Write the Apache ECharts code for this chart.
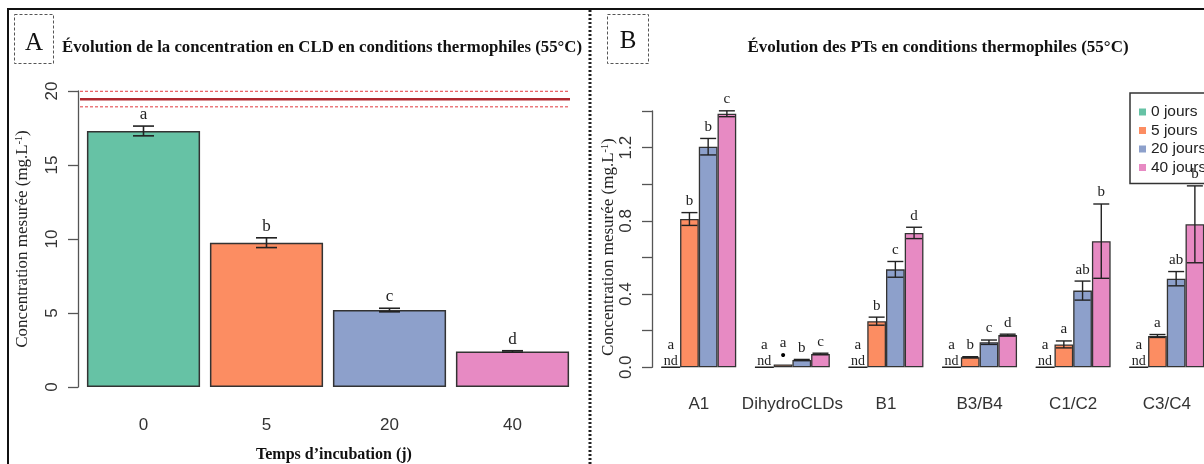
<!DOCTYPE html>
<html><head><meta charset="utf-8">
<script src="https://cdn.jsdelivr.net/npm/echarts@6/dist/echarts.min.js"></script>
<style>html,body{margin:0;padding:0;background:#fff}#c{width:1204px;height:464px}</style>
</head><body><div id="c"></div>
<script>
// ---- Panel A data ----
const leftCategories = ['0', '5', '20', '40'];
const leftValues = [17.3, 9.75, 5.2, 2.4];
const leftErrors = [0.33, 0.33, 0.12, 0.05];
const leftLetters = ['a', 'b', 'c', 'd'];
const leftColors = ['#66C2A5', '#FC8D62', '#8DA0CB', '#E78AC3'];
const refMean = 19.45, refHigh = 19.98, refLow = 18.93;

// ---- Panel B data ----
const rightCategories = ['A1', 'DihydroCLDs', 'B1', 'B3/B4', 'C1/C2', 'C3/C4'];
const seriesNames = ['0 jours', '5 jours', '20 jours', '40 jours'];
const day0 = [0, 0, 0, 0, 0, 0];
const day5 = [0.81, 0.015, 0.252, 0.055, 0.125, 0.171];
const day20 = [1.205, 0.04, 0.535, 0.137, 0.419, 0.484];
const day40 = [1.385, 0.073, 0.734, 0.176, 0.689, 0.781];
const err0 = [0, 0, 0, 0, 0, 0];
const err5 = [0.035, 0, 0.022, 0.003, 0.019, 0.008];
const err20 = [0.045, 0.003, 0.043, 0.012, 0.052, 0.039];
const err40 = [0.016, 0.004, 0.031, 0.005, 0.203, 0.21];
const letters0 = ['a', 'a', 'a', 'a', 'a', 'a'];
const letters5 = ['b', 'a', 'b', 'b', 'a', 'a'];
const letters20 = ['b', 'b', 'c', 'c', 'ab', 'ab'];
const letters40 = ['c', 'c', 'd', 'd', 'b', 'b'];
const marks5 = ['', '•', '', '', '', ''];
const ndLabel = 'nd';

const SERIF = '"Liberation Serif", "Times New Roman", serif';
const SANS = '"Liberation Sans", Arial, sans-serif';
const INK = '#222';

const dayValues = [day0, day5, day20, day40];
const dayErrors = [err0, err5, err20, err40];
const dayLetters = [letters0, letters5, letters20, letters40];

const chart = echarts.init(document.getElementById('c'), null, {renderer: 'canvas'});

function leftErrRender(params, api) {
  const i = api.value(0);
  const v = leftValues[i], e = leftErrors[i];
  const pTop = api.coord([i, v + e]);
  const pBot = api.coord([i, v - e]);
  const x = pTop[0];
  const cap = 10.5;
  const st = {stroke: INK, lineWidth: 1.6};
  return {type: 'group', children: [
    {type: 'line', shape: {x1: x, y1: pTop[1], x2: x, y2: pBot[1]}, style: st},
    {type: 'line', shape: {x1: x - cap, y1: pTop[1], x2: x + cap, y2: pTop[1]}, style: st},
    {type: 'line', shape: {x1: x - cap, y1: pBot[1], x2: x + cap, y2: pBot[1]}, style: st},
    {type: 'text', x: x, y: pTop[1] - 3, style: {text: leftLetters[i], font: '17px ' + SERIF, textAlign: 'center', textVerticalAlign: 'bottom', fill: INK}}
  ]};
}

// reference band (red lines) drawn across the plot through the value scale
function refRender(params, api) {
  const band = api.size([1, 0])[0];
  const first = api.coord([0, refMean]);
  const last = api.coord([leftCategories.length - 1, refMean]);
  const x1 = first[0] - band / 2 - 2, x2 = last[0] + band / 2 - 4;
  const yM = first[1], yH = api.coord([0, refHigh])[1], yL = api.coord([0, refLow])[1];
  const dash = {stroke: '#e23b3f', lineWidth: 1, lineDash: [3, 2]};
  return {type: 'group', children: [
    {type: 'line', shape: {x1: x1, y1: yH, x2: x2, y2: yH}, style: dash},
    {type: 'line', shape: {x1: x1, y1: yL, x2: x2, y2: yL}, style: dash},
    {type: 'line', shape: {x1: x1, y1: yM, x2: x2, y2: yM}, style: {stroke: '#b0282e', lineWidth: 2.5}}
  ]};
}

function rightErrRender(params, api) {
  const i = api.value(0);
  const center = api.coord([i, 0]);
  const band = api.size([1, 0])[0];
  const bw = band * 0.8 / 4;
  const children = [];
  const st = {stroke: INK, lineWidth: 1.4};
  for (let d = 0; d < 4; d++) {
    const x = center[0] + (d - 1.5) * bw;
    const v = dayValues[d][i], e = dayErrors[d][i];
    const y0 = center[1];
    if (v === 0) {
      children.push({type: 'line', shape: {x1: x - bw / 2, y1: y0, x2: x + bw / 2, y2: y0}, style: {stroke: INK, lineWidth: 1.3}});
      children.push({type: 'text', x: x, y: y0 + 1, style: {text: ndLabel, font: '14px ' + SERIF, textAlign: 'center', textVerticalAlign: 'bottom', fill: INK}});
      children.push({type: 'text', x: x, y: y0 - 15, style: {text: dayLetters[d][i], font: '15px ' + SERIF, textAlign: 'center', textVerticalAlign: 'bottom', fill: INK}});
      continue;
    }
    const pTop = api.coord([i, v + e]);
    const pBot = api.coord([i, v - e]);
    const cap = 8;
    if (e > 0) {
      children.push({type: 'line', shape: {x1: x, y1: pTop[1], x2: x, y2: pBot[1]}, style: st});
      children.push({type: 'line', shape: {x1: x - cap, y1: pTop[1], x2: x + cap, y2: pTop[1]}, style: st});
      children.push({type: 'line', shape: {x1: x - cap, y1: pBot[1], x2: x + cap, y2: pBot[1]}, style: st});
    }
    let ly = pTop[1] - 4;
    const mark = d === 1 ? marks5[i] : '';
    if (mark) {
      children.push({type: 'text', x: x, y: pTop[1] - 1, style: {text: mark, font: '15px ' + SANS, textAlign: 'center', textVerticalAlign: 'bottom', fill: '#000'}});
      ly -= 10;
    }
    children.push({type: 'text', x: x, y: ly, style: {text: dayLetters[d][i], font: '15px ' + SERIF, textAlign: 'center', textVerticalAlign: 'bottom', fill: INK}});
  }
  return {type: 'group', children: children};
}

const rightBarSeries = seriesNames.map((name, d) => ({
  name: name,
  type: 'bar',
  xAxisIndex: 1, yAxisIndex: 1,
  data: dayValues[d],
  barGap: '0%',
  barCategoryGap: '20%',
  itemStyle: {color: leftColors[d], borderColor: '#333', borderWidth: 1.3},
  emphasis: {disabled: true},
  silent: true
}));

const supRich = {sup: {fontSize: 10, verticalAlign: 'top', padding: [0, 0, 7, 0], fontFamily: SERIF, color: INK}};

const option = {
  animation: false,
  backgroundColor: '#fff',
  grid: [
    {left: 82, top: 91, width: 492, height: 296, outerBoundsMode: 'none', containLabel: false},
    {left: 652, top: 111, width: 561.6, height: 256.3, outerBoundsMode: 'none', containLabel: false}
  ],
  xAxis: [
    {type: 'category', gridIndex: 0, data: leftCategories,
     axisLine: {show: false}, axisTick: {show: false},
     axisLabel: {margin: 30, fontFamily: SANS, fontSize: 17, color: '#333'}},
    {type: 'category', gridIndex: 1, data: rightCategories,
     axisLine: {show: false}, axisTick: {show: false},
     axisLabel: {margin: 29, fontFamily: SANS, fontSize: 17, color: '#333', interval: 0, hideOverlap: false}}
  ],
  yAxis: [
    {type: 'value', gridIndex: 0, min: 0, max: 20, interval: 5, offset: 4,
     axisLine: {show: true, lineStyle: {color: '#555', width: 1.3}},
     axisTick: {show: true, length: 10, lineStyle: {color: '#555', width: 1.3}},
     splitLine: {show: false},
     axisLabel: {rotate: 90, margin: 17, fontFamily: SANS, fontSize: 17, color: '#333'},
     name: 'Concentration mesurée (mg.L{sup|-1})', nameLocation: 'middle', nameRotate: 90, nameGap: 47,
     nameTextStyle: {fontFamily: SERIF, fontSize: 17, color: INK, rich: supRich}},
    {type: 'value', gridIndex: 1, min: 0, max: 1.4, interval: 0.2,
     axisLine: {show: true, lineStyle: {color: '#555', width: 1.3}},
     axisTick: {show: true, length: 10, lineStyle: {color: '#555', width: 1.3}},
     splitLine: {show: false},
     axisLabel: {rotate: 90, margin: 17, fontFamily: SANS, fontSize: 17, color: '#333',
       formatter: v => (Math.round(v * 10) % 4 === 0 ? v.toFixed(1) : '')},
     name: 'Concentration mesurée (mg.L{sup|-1})', nameLocation: 'middle', nameRotate: 90, nameGap: 35,
     nameTextStyle: {fontFamily: SERIF, fontSize: 17, color: INK, rich: supRich, padding: [0, 16, 0, 0]}}
  ],
  legend: {
    data: seriesNames, orient: 'vertical', left: 1130, top: 93,
    padding: [10, 20, 7, 9], itemWidth: 7, itemHeight: 7, itemStyle: {borderWidth: 0},
    icon: 'rect', itemGap: 0.5,
    borderColor: '#333', borderWidth: 1.5, backgroundColor: '#fff',
    textStyle: {fontFamily: SANS, fontSize: 15.5, color: INK, lineHeight: 18},
    selectedMode: false
  },
  series: [
    {type: 'bar', xAxisIndex: 0, yAxisIndex: 0, data: leftValues.map((v, i) => ({value: v, itemStyle: {color: leftColors[i]}})),
     barCategoryGap: '8%', itemStyle: {borderColor: '#333', borderWidth: 1.5}, silent: true},
    {type: 'custom', xAxisIndex: 0, yAxisIndex: 0, data: [[0, refMean]], encode: {x: 0, y: 1},
     renderItem: refRender, silent: true, z: 4},
    {type: 'custom', xAxisIndex: 0, yAxisIndex: 0, data: leftValues.map((v, i) => [i, v]), encode: {x: 0, y: 1},
     renderItem: leftErrRender, silent: true, z: 5},
    ...rightBarSeries,
    {type: 'custom', xAxisIndex: 1, yAxisIndex: 1, data: rightCategories.map((c, i) => [i, day40[i]]), encode: {x: 0, y: 1},
     renderItem: rightErrRender, silent: true, z: 5}
  ],
  graphic: [
    {type: 'line', shape: {x1: 7, y1: 9, x2: 1204, y2: 9}, style: {stroke: '#111', lineWidth: 2}},
    {type: 'line', shape: {x1: 8, y1: 8, x2: 8, y2: 464}, style: {stroke: '#111', lineWidth: 2}},
    {type: 'line', shape: {x1: 590, y1: 10, x2: 590, y2: 464}, style: {stroke: '#222', lineWidth: 3, lineDash: [2, 2]}},
    {type: 'rect', shape: {x: 14.5, y: 14.5, width: 39, height: 49}, style: {fill: 'none', stroke: '#555', lineWidth: 1, lineDash: [3, 2]}},
    {type: 'rect', shape: {x: 607.5, y: 14.5, width: 41, height: 49}, style: {fill: 'none', stroke: '#555', lineWidth: 1, lineDash: [3, 2]}},
    {type: 'text', x: 34, y: 43, style: {text: 'A', font: '25px ' + SERIF, textAlign: 'center', textVerticalAlign: 'middle', fill: '#111'}},
    {type: 'text', x: 628, y: 41, style: {text: 'B', font: '25px ' + SERIF, textAlign: 'center', textVerticalAlign: 'middle', fill: '#111'}},
    {type: 'text', x: 322, y: 48, style: {text: 'Évolution de la concentration en CLD en conditions thermophiles (55°C)', font: 'bold 16.8px ' + SERIF, textAlign: 'center', textVerticalAlign: 'middle', fill: '#111'}},
    {type: 'text', x: 938, y: 48, style: {text: 'Évolution des PTs en conditions thermophiles (55°C)', font: 'bold 17px ' + SERIF, textAlign: 'center', textVerticalAlign: 'middle', fill: '#111'}},
    {type: 'text', x: 334, y: 455, style: {text: 'Temps d’incubation (j)', font: 'bold 16px ' + SERIF, textAlign: 'center', textVerticalAlign: 'middle', fill: '#111'}}
  ]
};
chart.setOption(option);
</script></body></html>
